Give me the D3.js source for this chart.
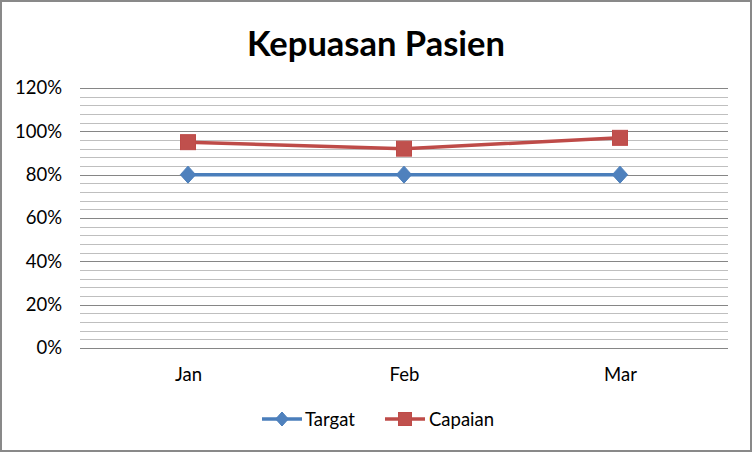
<!DOCTYPE html>
<html><head><meta charset="utf-8">
<script src="https://cdn.jsdelivr.net/npm/d3@7"></script>
<style>html,body{margin:0;padding:0;background:#fff}svg{display:block}</style>
</head><body>
<svg id="c" width="752" height="452"></svg>
<script>
const categories = ["Jan", "Feb", "Mar"];
const targat = [0.80, 0.80, 0.80];
const capaian = [0.95, 0.92, 0.97];
const yTicks = [0, 0.2, 0.4, 0.6, 0.8, 1.0, 1.2];
const seriesNames = ["Targat", "Capaian"];

const svg = d3.select("#c");
const W = 752, H = 452;
const font = "Lato, Carlito, Calibri, 'Open Sans', sans-serif";
const fs = 18.5;

svg.append("rect").attr("x", 1).attr("y", 1).attr("width", W - 2).attr("height", H - 2)
  .attr("fill", "#fff").attr("stroke", "#898989").attr("stroke-width", 2);

const L = 80, R = 728, T = 88, B = 348;
const x = d3.scalePoint().domain(categories).range([L, R]).padding(0.5);
const y = d3.scaleLinear().domain([0, 1.2]).range([B, T]);

// minor gridlines
const minor = d3.range(0, 1.2001, 0.04);
svg.append("g").selectAll("line").data(minor).join("line")
  .attr("x1", L).attr("x2", R)
  .attr("y1", d => Math.round(y(d)) + 0.5).attr("y2", d => Math.round(y(d)) + 0.5)
  .attr("stroke", "#bfbfbf").attr("stroke-width", 1);
// major gridlines
svg.append("g").selectAll("line").data(yTicks).join("line")
  .attr("x1", L).attr("x2", R)
  .attr("y1", d => Math.round(y(d)) + 0.5).attr("y2", d => Math.round(y(d)) + 0.5)
  .attr("stroke", "#868686").attr("stroke-width", 1);

// y axis labels
const yAxis = d3.axisLeft(y).tickValues(yTicks).tickFormat(d3.format(".0%")).tickSize(0).tickPadding(18);
const gy = svg.append("g").attr("transform", `translate(${L},0)`).call(yAxis);
gy.select(".domain").remove();
gy.selectAll("text").attr("font-family", font).attr("font-size", fs).attr("fill", "#000");

// x axis labels
const xAxis = d3.axisBottom(x).tickSize(0).tickPadding(20);
const gx = svg.append("g").attr("transform", `translate(0,${B})`).call(xAxis);
gx.select(".domain").remove();
gx.selectAll("text").attr("font-family", font).attr("font-size", fs).attr("fill", "#000");

// title
svg.append("text").attr("x", 376).attr("y", 56).attr("text-anchor", "middle")
  .attr("font-family", font).attr("font-weight", "bold").attr("font-size", 34.5)
  .attr("fill", "#000").text("Kepuasan Pasien");

const blue = "#4A7EBB", red = "#BE4B48", redFill = "#C0504D", blueFill = "#4F81BD";
const line = d3.line().x((d, i) => x(categories[i])).y(d => y(d));

function diamond(g, cx, cy, s) {
  g.append("path").attr("d", `M${cx},${cy - s}L${cx + s * 0.9},${cy}L${cx},${cy + s}L${cx - s * 0.9},${cy}Z`)
    .attr("fill", blueFill).attr("stroke", blue).attr("stroke-width", 1);
}
function square(g, cx, cy, s) {
  g.append("rect").attr("x", cx - s).attr("y", cy - s).attr("width", 2 * s).attr("height", 2 * s)
    .attr("fill", redFill).attr("stroke", red).attr("stroke-width", 1);
}

const gT = svg.append("g");
gT.append("path").datum(targat).attr("d", line).attr("fill", "none").attr("stroke", blue).attr("stroke-width", 3.5);
targat.forEach((v, i) => diamond(gT, x(categories[i]), y(v), 8.5));

const gC = svg.append("g");
gC.append("path").datum(capaian).attr("d", line).attr("fill", "none").attr("stroke", red).attr("stroke-width", 3.5);
capaian.forEach((v, i) => square(gC, x(categories[i]), y(v), 7.5));

// legend
const ly = 419;
const lg = svg.append("g");
lg.append("line").attr("x1", 262).attr("x2", 302).attr("y1", ly).attr("y2", ly).attr("stroke", blue).attr("stroke-width", 3.5);
diamond(lg, 282, ly, 7);
lg.append("text").attr("x", 305).attr("y", ly + 6.5).attr("font-family", font).attr("font-size", fs).text(seriesNames[0]);
lg.append("line").attr("x1", 385).attr("x2", 425).attr("y1", ly).attr("y2", ly).attr("stroke", red).attr("stroke-width", 3.5);
square(lg, 405, ly, 6.5);
lg.append("text").attr("x", 429).attr("y", ly + 6.5).attr("font-family", font).attr("font-size", fs).text(seriesNames[1]);
</script>
</body></html>
